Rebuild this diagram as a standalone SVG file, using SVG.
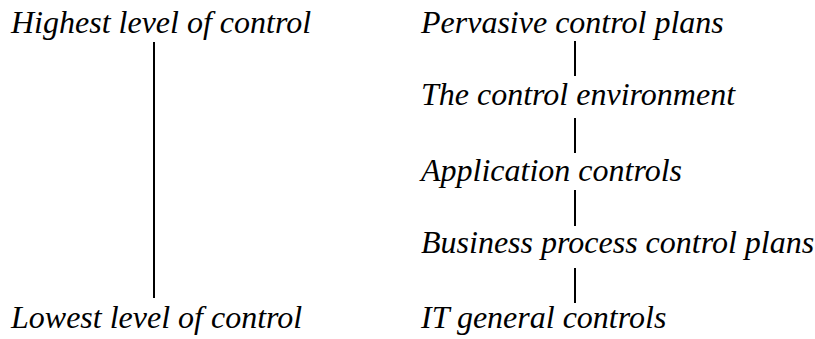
<svg xmlns="http://www.w3.org/2000/svg" width="815" height="339" viewBox="0 0 815 339">
<style>
text{font-family:"Liberation Serif","Times New Roman",serif;font-style:italic;font-size:32px;fill:#000}
.c line{stroke:#000;stroke-width:2}
</style>
<rect width="815" height="339" fill="#fff"/>
<g id="highest"><text x="11" y="33">Highest level of control</text></g>
<g id="lowest"><text x="11" y="328">Lowest level of control</text></g>
<g id="pervasive"><text x="421" y="33">Pervasive control plans</text></g>
<g id="environment"><text x="421" y="105">The control environment</text></g>
<g id="application"><text x="421" y="181">Application controls</text></g>
<g id="business"><text x="421" y="253">Business process control plans</text></g>
<g id="itgeneral"><text x="421" y="328">IT general controls</text></g>
<g class="c" id="connectors">
<line x1="154" y1="42" x2="154" y2="298"/>
<line x1="575" y1="41" x2="575" y2="76"/>
<line x1="575" y1="118" x2="575" y2="153"/>
<line x1="575" y1="190" x2="575" y2="226"/>
<line x1="575" y1="268" x2="575" y2="303"/>
</g>
</svg>
